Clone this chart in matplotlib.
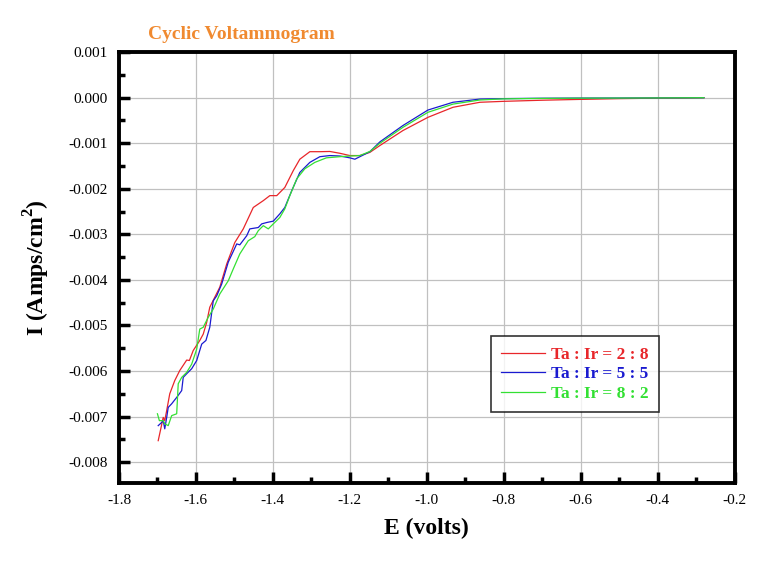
import matplotlib
matplotlib.use("Agg")
import matplotlib.pyplot as plt
from matplotlib.ticker import MultipleLocator, FormatStrFormatter

# Data (E in volts, I in mA/cm^2 -> converted to A/cm^2 when drawing)
red_E = [-1.698, -1.685, -1.681, -1.676, -1.668, -1.655, -1.642, -1.624, -1.617, -1.607,
         -1.590, -1.581, -1.572, -1.564, -1.551, -1.538, -1.520, -1.499, -1.477, -1.451,
         -1.425, -1.408, -1.390, -1.369, -1.347, -1.330, -1.304, -1.278, -1.252, -1.226,
         -1.200, -1.174, -1.148, -1.122, -1.062, -0.997, -0.932, -0.862, -0.802, -0.700,
         -0.603, -0.500, -0.400, -0.343, -0.280]
red_I = [-7.53, -7.02, -7.09, -6.87, -6.50, -6.21, -5.99, -5.76, -5.77, -5.55,
         -5.33, -5.19, -4.93, -4.60, -4.38, -4.16, -3.65, -3.18, -2.88, -2.41,
         -2.26, -2.15, -2.15, -1.97, -1.60, -1.35, -1.185, -1.185, -1.18, -1.22,
         -1.27, -1.27, -1.20, -1.05, -0.72, -0.43, -0.21, -0.10, -0.08, -0.055,
         -0.037, -0.02, -0.01, -0.007, 0.0]

blue_E = [-1.698, -1.689, -1.685, -1.681, -1.676, -1.672, -1.663, -1.650, -1.637, -1.633,
          -1.624, -1.611, -1.598, -1.585, -1.574, -1.564, -1.555, -1.546, -1.533, -1.516,
          -1.494, -1.486, -1.468, -1.460, -1.438, -1.429, -1.416, -1.399, -1.382, -1.369,
          -1.351, -1.330, -1.304, -1.278, -1.252, -1.226, -1.200, -1.187, -1.174, -1.148,
          -1.122, -1.062, -0.997, -0.932, -0.862, -0.802, -0.700, -0.600, -0.400, -0.280]
blue_I = [-7.20, -7.13, -7.09, -7.27, -7.02, -6.80, -6.72, -6.58, -6.43, -6.14,
          -6.06, -5.95, -5.77, -5.41, -5.33, -5.04, -4.46, -4.35, -4.09, -3.61,
          -3.21, -3.23, -3.03, -2.88, -2.85, -2.77, -2.74, -2.71, -2.55, -2.41,
          -2.04, -1.64, -1.42, -1.295, -1.27, -1.28, -1.32, -1.35, -1.295, -1.185,
          -0.97, -0.61, -0.27, -0.10, -0.03, -0.02, -0.012, -0.008, -0.005, 0.0]

green_E = [-1.700, -1.695, -1.685, -1.681, -1.672, -1.663, -1.650, -1.646, -1.637, -1.624,
           -1.611, -1.598, -1.590, -1.581, -1.568, -1.555, -1.538, -1.516, -1.503, -1.486,
           -1.464, -1.447, -1.438, -1.425, -1.412, -1.399, -1.382, -1.369, -1.356, -1.338,
           -1.317, -1.291, -1.261, -1.226, -1.200, -1.174, -1.148, -1.122, -1.062, -0.997,
           -0.932, -0.862, -0.802, -0.700, -0.600, -0.400, -0.280]
green_I = [-6.94, -7.09, -7.09, -7.16, -7.20, -6.98, -6.94, -6.28, -6.14, -6.03,
           -5.85, -5.52, -5.08, -5.04, -4.82, -4.64, -4.31, -4.02, -3.76, -3.43,
           -3.14, -3.05, -2.92, -2.81, -2.88, -2.77, -2.63, -2.44, -2.15, -1.78,
           -1.56, -1.42, -1.32, -1.295, -1.28, -1.27, -1.18, -1.00, -0.65, -0.32,
           -0.14, -0.05, -0.025, -0.015, -0.01, -0.005, 0.0]

labels = ["Ta : Ir = 2 : 8", "Ta : Ir = 5 : 5", "Ta : Ir = 8 : 2"]
colors = ["#e8262a", "#1a1ad0", "#33e033"]

plt.rcParams['font.family'] = ['Liberation Serif', 'DejaVu Serif']
plt.rcParams['mathtext.fontset'] = 'custom'
plt.rcParams['mathtext.rm'] = 'Liberation Serif:bold'
plt.rcParams['mathtext.bf'] = 'Liberation Serif:bold'

fig = plt.figure(figsize=(7.75, 5.61), dpi=100)
ax = fig.add_axes([0.1535, 0.139, 0.7945, 0.768])

series = [(red_E, red_I), (blue_E, blue_I), (green_E, green_I)]
for (E, I), lab, c in zip(series, labels, colors):
    ax.plot(E, [v * 1e-3 for v in I], color=c, lw=0.9, label=lab)

ax.set_xlim(-1.8, -0.2)
ax.set_ylim(-0.00846, 0.001)
ax.xaxis.set_major_locator(MultipleLocator(0.2))
ax.xaxis.set_minor_locator(MultipleLocator(0.1))
ax.yaxis.set_major_locator(MultipleLocator(0.001))
ax.yaxis.set_minor_locator(MultipleLocator(0.0005))
ax.xaxis.set_major_formatter(FormatStrFormatter('%.1f'))
ax.yaxis.set_major_formatter(FormatStrFormatter('%.3f'))

ax.grid(True, which='major', color='#c0c0c0', lw=0.9)
ax.set_axisbelow(True)
for s in ax.spines.values():
    s.set_linewidth(2.8)
ax.tick_params(which='major', direction='in', length=8, width=2.5, labelsize=11, pad=8,
               top=False, right=False)
ax.tick_params(which='minor', direction='in', length=4, width=2.5, top=False, right=False)

ax.set_xlabel("E (volts)", fontsize=17, fontweight='bold', labelpad=8)
ax.set_ylabel("I (Amps/cm$^{\\mathrm{2}}$)", fontsize=17, fontweight='bold', labelpad=12)
fig.text(0.191, 0.938, "Cyclic Voltammogram", fontsize=14, fontweight='bold',
         color='#f08a30', ha='left', va='center')

leg = ax.legend(loc='upper left', bbox_to_anchor=(0.604, 0.341), borderaxespad=0,
                frameon=True, fancybox=False, edgecolor='black', fontsize=12.5,
                handlelength=2.5, borderpad=0.6, labelspacing=0.2, handletextpad=0.35)
leg.get_frame().set_linewidth(1.2)
for txt, c in zip(leg.get_texts(), colors):
    txt.set_color(c)
    txt.set_fontweight('bold')

fig.savefig("out.png", dpi=100)
